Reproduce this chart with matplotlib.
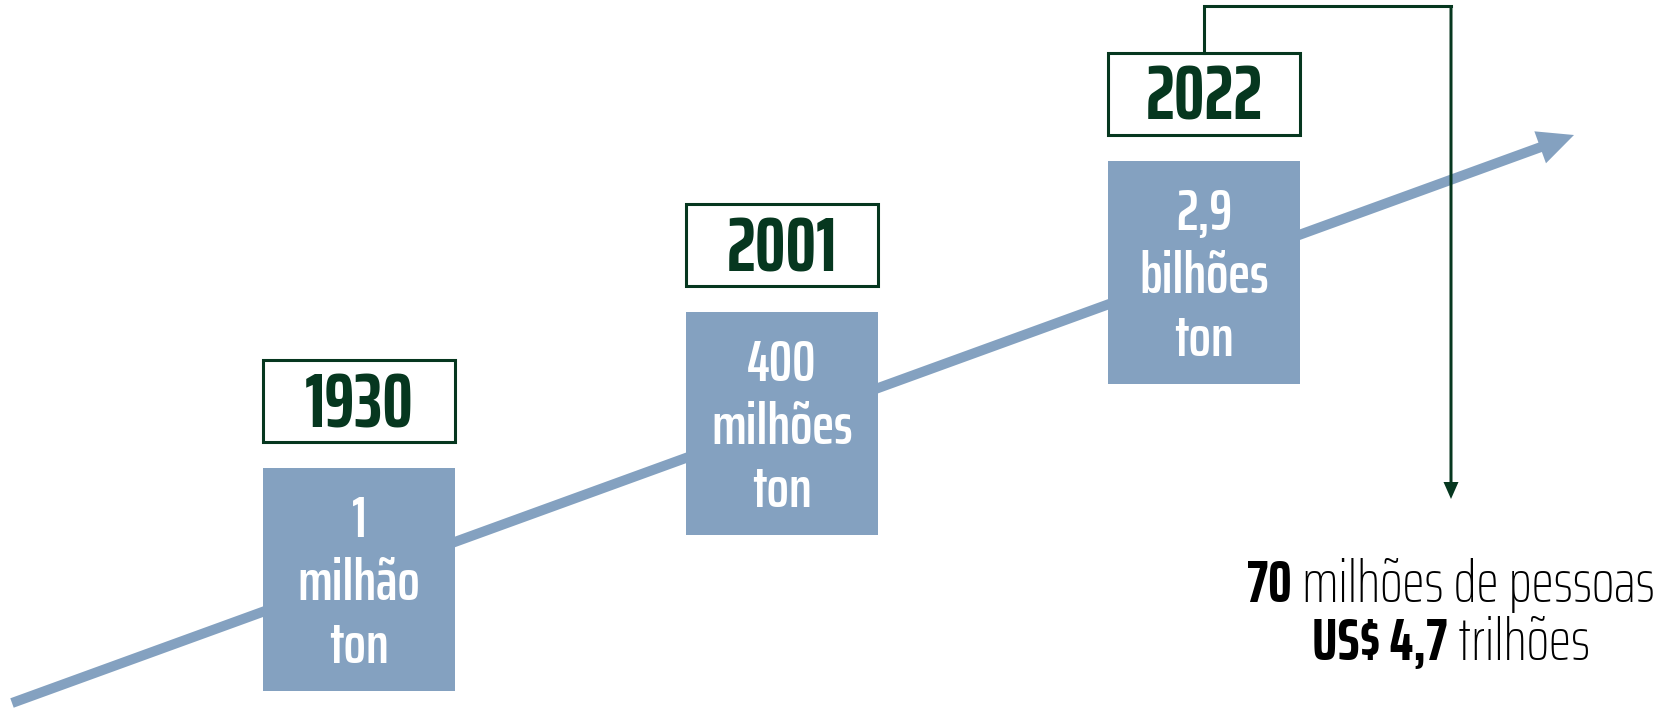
import matplotlib
matplotlib.use('Agg')
import matplotlib.pyplot as plt
from matplotlib.patches import Rectangle, FancyArrow

plt.rcParams['font.family'] = ['Saira ExtraCondensed', 'Barlow Condensed', 'DejaVu Sans']

# marcos da producao de plastico
anos = ['1930', '2001', '2022']
quantidades = ['1', '400', '2,9']
unidades = ['milhão', 'milhões', 'bilhões']
rodape = [[('70', 'bold'), (' milhões de pessoas', 'light')],
          [('US$ 4,7', 'bold'), (' trilhões', 'light')]]

VERDE = '#06371F'
AZUL = '#84A1C0'

# layout em pixels
x_caixa = [263, 686, 1108]
y_ano = [360, 204, 53]
LARG = 192
ALT_ANO = 82
GAP = 26
ALT_VALOR = 223

fig = plt.figure(figsize=(16.65, 7.11), dpi=100)
ax = fig.add_axes([0, 0, 1, 1])
ax.set_xlim(0, 1665)
ax.set_ylim(711, 0)
ax.axis('off')

# seta de crescimento
ax.add_patch(FancyArrow(12, 703, 1574 - 12, 135 - 703, width=10, head_width=34,
                        head_length=36, length_includes_head=True,
                        color=AZUL, lw=0, zorder=1))

for xa, ya, ano, q, u in zip(x_caixa, y_ano, anos, quantidades, unidades):
    ax.add_patch(Rectangle((xa, ya), LARG, ALT_ANO, facecolor='white',
                           edgecolor=VERDE, lw=2.2, zorder=3))
    ax.text(xa + LARG / 2, ya + ALT_ANO / 2 + 26, ano, ha='center', va='baseline',
            fontsize=55, fontweight='bold', color=VERDE, zorder=4)
    yv = ya + ALT_ANO + GAP
    ax.add_patch(Rectangle((xa, yv), LARG, ALT_VALOR, facecolor=AZUL,
                           edgecolor='none', zorder=3))
    for i, linha in enumerate([q, u, 'ton']):
        ax.text(xa + LARG / 2, yv + 69 + 63 * i, linha, ha='center', va='baseline',
                fontsize=42, fontweight='semibold', color='white', zorder=4)

# conector de 2022 para o rodape
xc0 = x_caixa[2] + 96
xc1 = 1451
ax.plot([xc0, xc0, xc1], [y_ano[2], 6, 6], color=VERDE, lw=2.2,
        solid_joinstyle='miter', zorder=5)
ax.add_patch(FancyArrow(xc1, 6, 0, 493, width=3, head_width=15, head_length=17,
                        length_includes_head=True, color=VERDE, lw=0, zorder=5))

# rodape com pesos misturados, centrado em xc1
fig.canvas.draw()
r = fig.canvas.get_renderer()
inv = ax.transData.inverted()
for linha, yb in zip(rodape, [602, 660]):
    partes = []
    x = 0
    for txt, peso in linha:
        t = ax.text(x, yb, txt, ha='left', va='baseline', fontsize=43,
                    fontweight=peso, color='black', zorder=5)
        bb = t.get_window_extent(r)
        x0, x1 = inv.transform([(bb.x0, 0), (bb.x1, 0)])[:, 0]
        partes.append(t)
        x += x1 - x0
    desloc = xc1 - x / 2
    for t in partes:
        t.set_x(t.get_position()[0] + desloc)

fig.savefig('out.png')
